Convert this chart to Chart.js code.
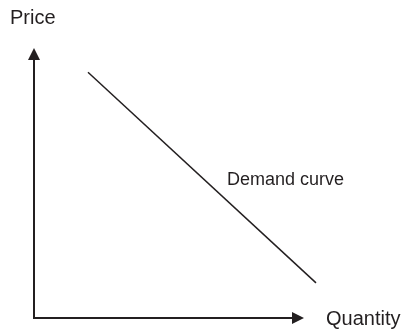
<!DOCTYPE html>
<html>
<head>
<meta charset="utf-8">
<script src="https://cdn.jsdelivr.net/npm/chart.js@4"></script>
<style>
  html, body { margin: 0; padding: 0; background: #fff; }
  #wrap { width: 405px; height: 330px; }
</style>
</head>
<body>
<div id="wrap"><canvas id="demandChart"></canvas></div>
<script>
// demand line end points (quantity, price) in axis units 0..10
const demandQty = [1.8, 9.4];
const demandPrice = [9.1, 1.3];
// where the axis arrows stop
const axisEnd = { x: 9.0, y: 10.0 };
const axisLabels = ['Price', 'Quantity'];
const curveLabel = 'Demand curve';

const ink = '#231f20';
const axisFont = '20px "Liberation Sans", Arial, sans-serif';
const curveFont = '18px "Liberation Sans", Arial, sans-serif';

const axesPlugin = {
    id: 'axesPlugin',
    afterDraw(chart) {
        const ctx = chart.ctx;
        const xs = chart.scales.x, ys = chart.scales.y;
        const x0 = xs.getPixelForValue(0), y0 = ys.getPixelForValue(0);
        const xEnd = xs.getPixelForValue(axisEnd.x);
        const yEnd = ys.getPixelForValue(axisEnd.y);
        ctx.save();
        ctx.strokeStyle = ink;
        ctx.fillStyle = ink;
        ctx.lineWidth = 2;
        ctx.beginPath();
        ctx.moveTo(x0, yEnd + 10);
        ctx.lineTo(x0, y0);
        ctx.lineTo(xEnd - 10, y0);
        ctx.stroke();
        // arrow heads
        ctx.beginPath();
        ctx.moveTo(x0, yEnd);
        ctx.lineTo(x0 - 6, yEnd + 12);
        ctx.lineTo(x0 + 6, yEnd + 12);
        ctx.closePath();
        ctx.fill();
        ctx.beginPath();
        ctx.moveTo(xEnd, y0);
        ctx.lineTo(xEnd - 12, y0 - 6);
        ctx.lineTo(xEnd - 12, y0 + 6);
        ctx.closePath();
        ctx.fill();
        // labels
        ctx.textBaseline = 'alphabetic';
        ctx.textAlign = 'left';
        ctx.font = axisFont;
        ctx.fillText(axisLabels[0], 10, 24);
        ctx.fillText(axisLabels[1], xEnd + 22, y0 + 7);
        ctx.font = curveFont;
        ctx.fillText(curveLabel, 227, 185);
        ctx.restore();
    }
};

new Chart(document.getElementById('demandChart'), {
    type: 'scatter',
    data: {
        datasets: [{
            data: demandQty.map((q, i) => ({ x: q, y: demandPrice[i] })),
            showLine: true,
            borderColor: ink,
            borderWidth: 1.5,
            pointRadius: 0,
            clip: false
        }]
    },
    options: {
        responsive: true,
        maintainAspectRatio: false,
        animation: false,
        layout: { padding: { left: 34, right: 71, top: 48, bottom: 12 } },
        plugins: { legend: { display: false }, tooltip: { enabled: false } },
        scales: {
            x: { type: 'linear', min: 0, max: 10, display: false },
            y: { type: 'linear', min: 0, max: 10, display: false }
        }
    },
    plugins: [axesPlugin]
});
</script>
</body>
</html>
